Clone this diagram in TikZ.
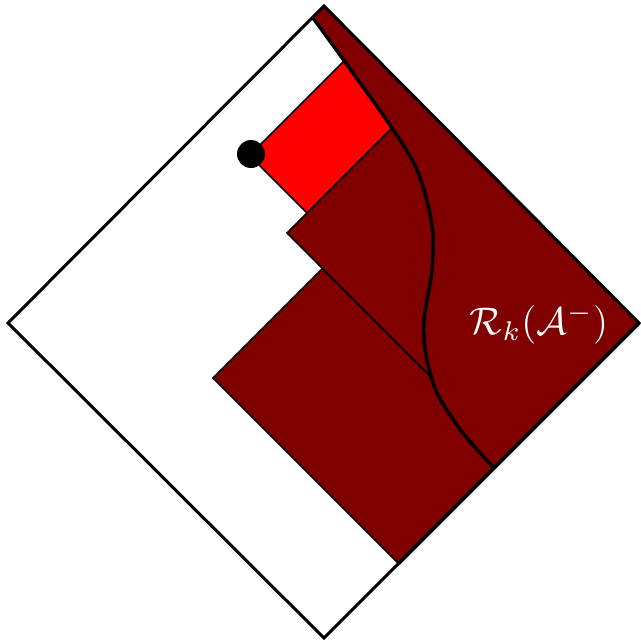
\documentclass[tikz,border=0pt]{standalone}
\definecolor{darkmaroon}{RGB}{128,0,0}
\definecolor{brightred}{RGB}{255,0,0}
\tikzset{
  thinedge/.style={draw=black, line width=1.5pt, line join=miter},
  frame/.style={draw=black, line width=3pt, line join=miter},
  bigcurve/.style={draw=black, line width=3.4pt},
}
\begin{document}
\begin{tikzpicture}[x=1pt,y=-1pt]
\useasboundingbox (0,0) rectangle (641,640);
\coordinate (T) at (324,6);
\coordinate (L) at (8,323);
\coordinate (B) at (324,638);
\coordinate (R) at (639,323);
% outer diamond
\fill[white] (T) -- (R) -- (B) -- (L) -- cycle;
% lower block B
\coordinate (b1) at (213,378);
\coordinate (b2) at (322.5,268.5);
\coordinate (b3) at (508,454);
\coordinate (b4) at (398.5,563.5);
\filldraw[fill=darkmaroon, thinedge] (b1) -- (b2) -- (b3) -- (b4) -- cycle;
% upper block A
\coordinate (a1) at (287,233);
\coordinate (a2) at (392,128);
\coordinate (a3) at (535,271);
\coordinate (a4) at (430,376);
\filldraw[fill=darkmaroon, thinedge] (a1) -- (a2) -- (a3) -- (a4) -- cycle;
% red block
\coordinate (r1) at (249.5,155.5);
\coordinate (r2) at (352.5,52.5);
\coordinate (r3) at (410,110);
\coordinate (r4) at (307,213);
\filldraw[fill=brightred, thinedge] (r1) -- (r2) -- (r3) -- (r4) -- cycle;
% region right of the curve
\fill[darkmaroon] plot[smooth] coordinates {(313,18) (345,62) (392,128) (418,172) (432,225) (432,270) (424,320) (426,355) (437,393) (463,433) (494,468)} -- (R) -- (T) -- cycle;
\draw[bigcurve] plot[smooth] coordinates {(313,18) (345,62) (392,128) (418,172) (432,225) (432,270) (424,320) (426,355) (437,393) (463,433) (494,468)};
% frame
\draw[frame] (T) -- (R) -- (B) -- (L) -- cycle;
\draw[black, line width=3.6pt] (R) -- (b4);
% dot
\fill[black] (251,154) circle (14);
% label
\node[text=white, scale=3.85] (lab) at (539,324) {$\mathcal{R}_k(\mathcal{A}^-)$};
\end{tikzpicture}
\end{document}
